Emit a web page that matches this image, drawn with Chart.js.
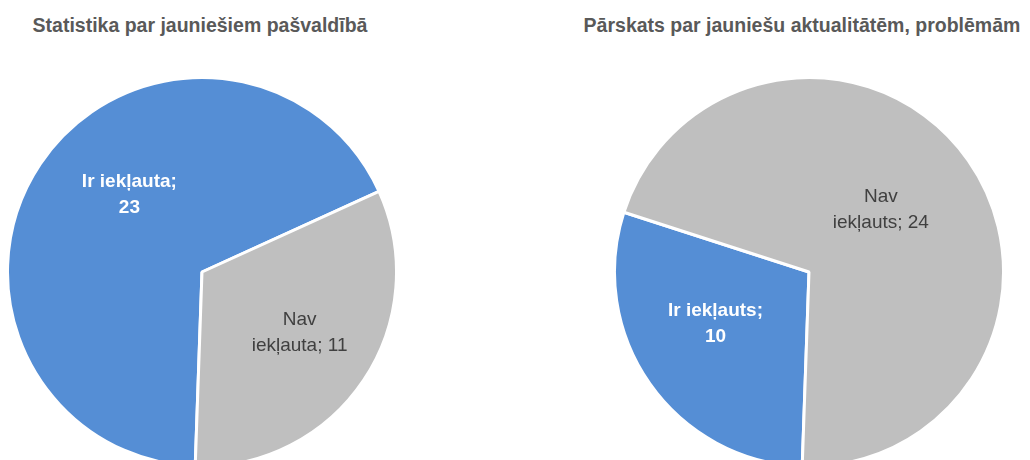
<!DOCTYPE html>
<html>
<head>
<meta charset="utf-8">
<script src="https://cdn.jsdelivr.net/npm/chart.js@4.4.1/dist/chart.umd.min.js"></script>
<style>
  html, body { margin: 0; padding: 0; background: #fff; }
  body { width: 1030px; height: 460px; position: relative; overflow: hidden; }
  .title {
    position: absolute; top: 15px; width: 460px; text-align: center;
    font: bold 19.5px "Liberation Sans", Arial, sans-serif; line-height: 20px;
    color: #595959; white-space: nowrap;
  }
  .pie { position: absolute; width: 392px; height: 392px; }
</style>
</head>
<body>
<div class="title" style="left: -30px;">Statistika par jauniešiem pašvaldībā</div>
<div class="title" style="left: 572px;">Pārskats par jauniešu aktualitātēm, problēmām</div>
<div class="pie" style="left: 6px; top: 76px;"><canvas id="chart-left"></canvas></div>
<div class="pie" style="left: 613px; top: 76px;"><canvas id="chart-right"></canvas></div>
<script>
// Pie data
const leftCategories = ['Ir iekļauta', 'Nav iekļauta'];
const leftValues = [23, 11];
const rightCategories = ['Ir iekļauts', 'Nav iekļauts'];
const rightValues = [10, 24];

const sliceColors = ['#558ed5', '#bfbfbf'];
const labelColors = ['#ffffff', '#404040'];
const labelBold = [true, false];

// label placement inside the slice (radius factor, angle shift in degrees)
const leftPlace = [{ f: 0.545, shift: 13 }, { f: 0.59, shift: -2 }];
const rightPlace = [{ f: 0.55, shift: 6 }, { f: 0.49, shift: -6 }];

// "Ir iekļauta;" / "23"  and  "Nav" / "iekļauta; 11"
function labelLines(cat, val, i) {
    if (i === 0) return [cat + ';', String(val)];
    const sp = cat.indexOf(' ');
    return [cat.slice(0, sp), cat.slice(sp + 1) + '; ' + val];
}

function sliceLabels(place) {
    return {
        id: 'sliceLabels',
        afterDatasetsDraw(chart) {
            const ctx = chart.ctx;
            const arcs = chart.getDatasetMeta(0).data;
            const cats = chart.data.labels;
            const vals = chart.data.datasets[0].data;
            arcs.forEach((arc, i) => {
                const mid = (arc.startAngle + arc.endAngle) / 2 + place[i].shift * Math.PI / 180;
                const r = arc.outerRadius * place[i].f;
                const x = arc.x + Math.cos(mid) * r;
                const y = arc.y + Math.sin(mid) * r;
                const lines = labelLines(cats[i], vals[i], i);
                const lh = 26;
                ctx.save();
                ctx.font = (labelBold[i] ? 'bold ' : '') + '19px "Liberation Sans", Arial, sans-serif';
                ctx.fillStyle = labelColors[i];
                ctx.textAlign = 'center';
                ctx.textBaseline = 'middle';
                lines.forEach((t, k) => {
                    ctx.fillText(t, x, y + (k - (lines.length - 1) / 2) * lh);
                });
                ctx.restore();
            });
        }
    };
}

function makePie(id, labels, values, place) {
    new Chart(document.getElementById(id), {
        type: 'pie',
        data: {
            labels: labels,
            datasets: [{
                data: values,
                backgroundColor: sliceColors,
                borderColor: '#ffffff',
                borderWidth: 3
            }]
        },
        options: {
            responsive: true,
            maintainAspectRatio: false,
            animation: false,
            rotation: 182,
            layout: { padding: 0 },
            plugins: {
                legend: { display: false },
                tooltip: { enabled: false },
                title: { display: false }
            }
        },
        plugins: [sliceLabels(place)]
    });
}

makePie('chart-left', leftCategories, leftValues, leftPlace);
makePie('chart-right', rightCategories, rightValues, rightPlace);
</script>
</body>
</html>
